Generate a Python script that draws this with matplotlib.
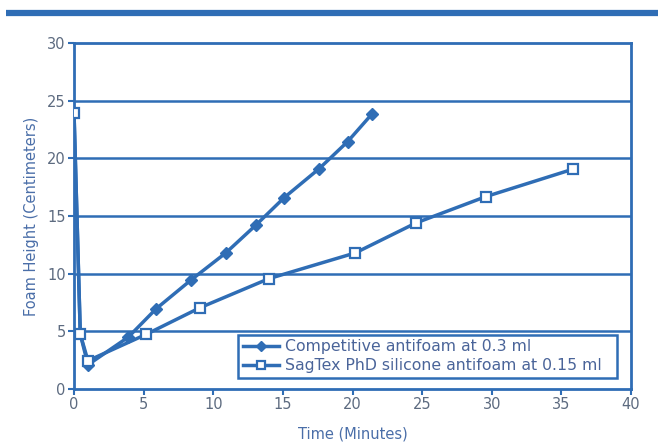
import numpy as np
import matplotlib.pyplot as plt
from matplotlib.lines import Line2D

comp_t = [0, 0.45, 1.0, 3.9, 5.9, 8.4, 10.9, 13.05, 15.1, 17.6, 19.65, 21.4]
comp_h = [23.9, 4.75, 2.1, 4.5, 6.96, 9.45, 11.8, 14.2, 16.6, 19.1, 21.45, 23.85]
comp_mark = list(range(2, len(comp_t)))
sag_t = [0, 0.45, 1.0, 5.2, 9.05, 14.0, 20.2, 24.56, 29.57, 35.8]
sag_h = [23.9, 4.75, 2.45, 4.75, 7.05, 9.57, 11.8, 14.4, 16.68, 19.05]

blue = '#2f6db5'
txt = '#4a6ea8'
tick_col = '#5d6b80'

fig = plt.figure(figsize=(6.58, 4.46), dpi=100)
ax = fig.add_axes([0.1125, 0.1278, 0.8465, 0.7758])

# band across the top
fig.add_artist(Line2D([6/658, 1.0], [1 - 12.5/446] * 2, color=blue, lw=4.5,
                      transform=fig.transFigure, solid_capstyle='butt'))

for y in range(5, 30, 5):
    ax.axhline(y, color=blue, lw=1.8, zorder=1)

ax.plot(comp_t, comp_h, color=blue, lw=2.5, marker='D', ms=6.5, mfc=blue,
        mec=blue, markevery=comp_mark,
        label='Competitive antifoam at 0.3 ml', zorder=3)
ax.plot(sag_t, sag_h, color=blue, lw=2.5, marker='s', ms=6.5, mfc='white',
        mec=blue, mew=1.6, label='SagTex PhD silicone antifoam at 0.15 ml', zorder=4)

ax.set_xlim(0, 40)
ax.set_ylim(0, 30)
ax.set_xticks(range(0, 41, 5))
ax.set_yticks(range(0, 31, 5))
for s in ax.spines.values():
    s.set_color(blue)
    s.set_linewidth(2)
ax.tick_params(direction='out', length=4, width=1.5, color=blue,
               labelcolor=tick_col, labelsize=10.5, pad=2)

ax.set_xlabel('Time (Minutes)', color=txt, fontsize=10.5, labelpad=10)
ax.set_ylabel('Foam Height (Centimeters)', color=txt, fontsize=10.5, labelpad=6)

leg = ax.legend(loc='lower left', bbox_to_anchor=(0.295, 0.032, 0.68, 0.162),
                mode='expand', fancybox=False, framealpha=1, fontsize=11.3,
                handlelength=2.3, handletextpad=0.4, borderaxespad=0,
                labelcolor='#4a6499', labelspacing=0.25, markerscale=0.85,
                borderpad=0.3)
leg.get_frame().set_edgecolor(blue)
leg.get_frame().set_linewidth(1.8)

fig.savefig('out.png', dpi=100)
